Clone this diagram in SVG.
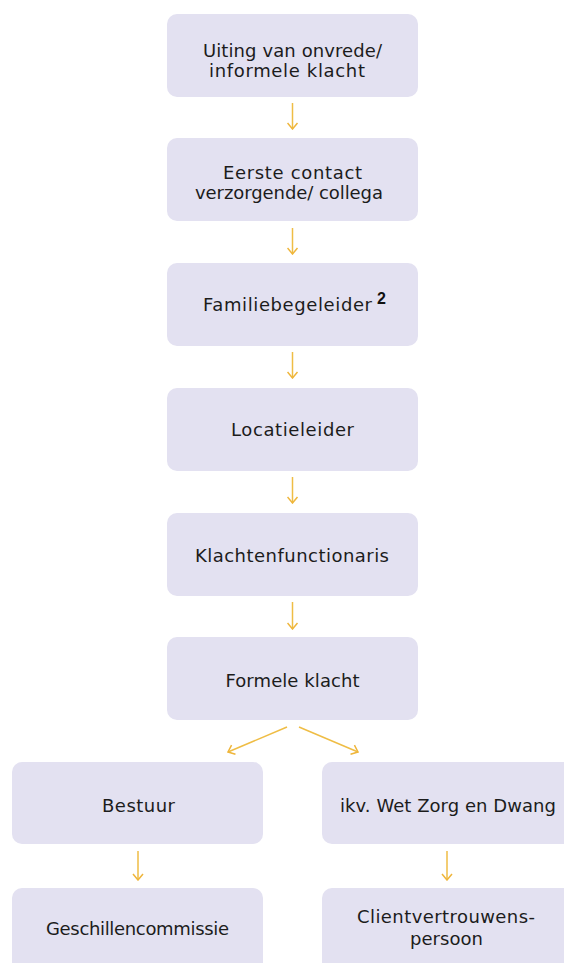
<svg xmlns="http://www.w3.org/2000/svg" width="564" height="963" viewBox="0 0 564 963">
<defs>
<style>
.box{fill:#e3e1f1}
.t{font-family:"DejaVu Sans","Noto Sans",sans-serif;font-size:18px;fill:#1c1c1c;text-anchor:middle}
.sup{font-family:"Liberation Sans",Arial,sans-serif;font-size:16px;font-weight:bold;fill:#111}
.arr{stroke:#efbd45;stroke-width:1.5;fill:none;marker-end:url(#ah)}
</style>
<marker id="ah" viewBox="-1 -6 8 12" refX="6" refY="0" markerWidth="8" markerHeight="12" markerUnits="userSpaceOnUse" orient="auto">
<path d="M0,-5 L6,0 L0,5" fill="none" stroke="#efb53a" stroke-width="1.5"/>
</marker>
</defs>
<rect width="564" height="963" fill="#ffffff"/>
<g id="n1"><rect class="box" x="167" y="14" width="251" height="83" rx="10"/>
<text class="t" x="292.5" y="57" textLength="179" lengthAdjust="spacing">Uiting van onvrede/</text>
<text class="t" x="287" y="77" textLength="156" lengthAdjust="spacing">informele klacht</text></g>
<g id="n2"><rect class="box" x="167" y="138" width="251" height="83" rx="10"/>
<text class="t" x="292.5" y="179" textLength="139" lengthAdjust="spacing">Eerste contact</text>
<text class="t" x="289" y="199" textLength="188" lengthAdjust="spacing">verzorgende/ collega</text></g>
<g id="n3"><rect class="box" x="167" y="263" width="251" height="83" rx="10"/>
<text class="t" x="287.5" y="311" textLength="169" lengthAdjust="spacing">Familiebegeleider</text>
<text class="sup" x="377" y="304">2</text></g>
<g id="n4"><rect class="box" x="167" y="388" width="251" height="83" rx="10"/>
<text class="t" x="292.5" y="436" textLength="123" lengthAdjust="spacing">Locatieleider</text></g>
<g id="n5"><rect class="box" x="167" y="513" width="251" height="83" rx="10"/>
<text class="t" x="292" y="562" textLength="194" lengthAdjust="spacing">Klachtenfunctionaris</text></g>
<g id="n6"><rect class="box" x="167" y="637" width="251" height="83" rx="10"/>
<text class="t" x="292.5" y="687" textLength="134" lengthAdjust="spacing">Formele klacht</text></g>
<g id="n7"><rect class="box" x="12" y="762" width="251" height="82" rx="10"/>
<text class="t" x="138.5" y="812" textLength="73" lengthAdjust="spacing">Bestuur</text></g>
<g id="n8"><rect class="box" x="322" y="762" width="260" height="82" rx="10"/>
<text class="t" x="448" y="812" textLength="216" lengthAdjust="spacing">ikv. Wet Zorg en Dwang</text></g>
<g id="n9"><rect class="box" x="12" y="888" width="251" height="90" rx="10"/>
<text class="t" x="137.5" y="935" textLength="183" lengthAdjust="spacing">Geschillencommissie</text></g>
<g id="n10"><rect class="box" x="322" y="888" width="260" height="90" rx="10"/>
<text class="t" x="446" y="923" textLength="178" lengthAdjust="spacing">Clientvertrouwens-</text>
<text class="t" x="446.5" y="945" textLength="73" lengthAdjust="spacing">persoon</text></g>
<g id="connectors">
<line class="arr" x1="292.5" y1="103" x2="292.5" y2="129"/>
<line class="arr" x1="292.5" y1="228" x2="292.5" y2="254"/>
<line class="arr" x1="292.5" y1="352" x2="292.5" y2="378"/>
<line class="arr" x1="292.5" y1="477" x2="292.5" y2="503"/>
<line class="arr" x1="292.5" y1="602" x2="292.5" y2="629"/>
<line class="arr" x1="287" y1="727" x2="228" y2="752"/>
<line class="arr" x1="299" y1="727" x2="358" y2="752"/>
<line class="arr" x1="138" y1="851" x2="138" y2="880"/>
<line class="arr" x1="447" y1="851" x2="447" y2="880"/>
</g>
</svg>
